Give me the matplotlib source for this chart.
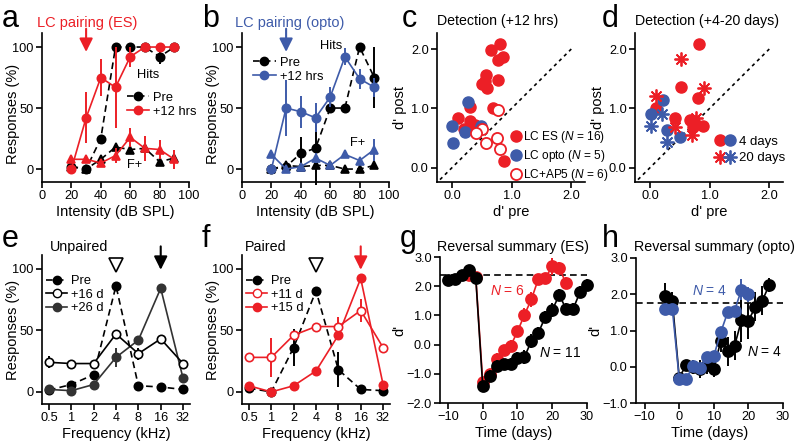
import matplotlib
matplotlib.use('Agg')
import matplotlib.pyplot as plt
from matplotlib.lines import Line2D
from matplotlib.legend_handler import HandlerTuple
from matplotlib.ticker import FuncFormatter

plt.rcParams['font.family'] = ['Liberation Sans', 'DejaVu Sans']
plt.rcParams['mathtext.fontset'] = 'custom'
plt.rcParams['mathtext.it'] = 'Liberation Sans:italic'
plt.rcParams['mathtext.rm'] = 'Liberation Sans'
plt.rcParams['axes.linewidth'] = 1.2
plt.rcParams['xtick.major.width'] = 1.2
plt.rcParams['ytick.major.width'] = 1.2
plt.rcParams['xtick.major.size'] = 4
plt.rcParams['ytick.major.size'] = 4
plt.rcParams['xtick.labelsize'] = 9.2
plt.rcParams['ytick.labelsize'] = 9.2
plt.rcParams['axes.labelsize'] = 10.5

RED = '#ec1f26'
BLUE = '#3e5ba9'
DGRAY = '#333333'

# ---------------- data ----------------
intensity = [20, 30, 40, 50, 60, 70, 80, 90]
pairing_intensity = 30

a_pre_hits = [2, 0, 25, 100, 100, 100, 92, 100]
a_pre_hits_err = [0, 0, 0, 0, 0, 0, 6, 0]
a_post_hits = [0, 42, 75, 67, 92, 100, 100, 100]
a_post_hits_err = [0, 21, 15, 33, 8, 0, 0, 0]
a_pre_fa = [2, 0, 8, 18, 16, 17, 6, 9]
a_post_fa = [8, 8, 5, 11, 26, 17, 16, 8]
a_post_fa_err = [0, 0, 0, 6, 8, 10, 8, 8]

b_pre_hits = [0, 2, 13, 17, 50, 50, 100, 75]
b_pre_hits_err = [0, 0, 13, 30, 0, 0, 0, 25]
b_post_hits = [0, 50, 47, 42, 59, 92, 74, 67]
b_post_hits_err = [0, 23, 13, 12, 8, 7, 8, 8]
b_pre_fa = [0, 3, 2, 3, 3, 0, 0, 3]
b_post_fa = [12, 0, 2, 9, 3, 12, 7, 16]
b_post_fa_err = [0, 0, 0, 4, 0, 0, 0, 9]

c_es_pre = [0.66, 0.81, 0.86, 0.77, 0.57, 0.51, 0.59, 0.56, 0.77, 0.69, 0.31, 0.11, 0.30, 0.38, 0.20, 0.87]
c_es_post = [1.99, 2.08, 1.87, 1.82, 1.56, 1.41, 1.34, 1.46, 1.48, 1.01, 1.02, 0.83, 0.78, 0.72, 0.65, 0.11]
c_opto_pre = [0.00, 0.02, 0.22, 0.27, 0.48]
c_opto_post = [0.71, 0.41, 0.61, 1.10, 0.71]
c_ap5_pre = [0.78, 0.51, 0.40, 0.57, 0.76, 0.80]
c_ap5_post = [0.97, 0.65, 0.59, 0.42, 0.50, 0.31]

d_es4_pre = [0.83, 0.52, 0.80, 0.11, 0.42, 0.67, 0.74, 0.72, 0.89]
d_es4_post = [2.09, 1.36, 1.17, 1.00, 0.83, 0.80, 0.78, 0.68, 0.70]
d_opto4_pre = [0.01, 0.22, 0.29, 0.51]
d_opto4_post = [0.91, 1.14, 0.64, 0.51]
d_es20_pre = [0.52, 0.10, 0.90, 0.42, 0.77, 0.71]
d_es20_post = [1.83, 1.21, 1.34, 0.69, 0.83, 0.55]
d_opto20_pre = [0.01, 0.21, 0.29]
d_opto20_post = [0.70, 0.90, 0.44]
diag = [-0.2, 2.0]

freqs = [0.5, 1, 2, 4, 8, 16, 32]
freq_labels = ['0.5', '1', '2', '4', '8', '16', '32']
orig_freq = 4
target_freq = 16

e_pre = [1.5, 6, 14, 86, 5, 4, 2]
e_pre_err = [0, 0, 0, 0, 0, 0, 0]
e_16d = [24, 23, 23, 47, 31, 43, 23]
e_16d_err = [5, 0, 0, 0, 5, 0, 0]
e_26d = [2, 1, 6, 28, 42, 84, 11]
e_26d_err = [0, 0, 0, 8, 0, 0, 0]

f_pre = [3, 0, 36, 82, 18, 2, 1]
f_pre_err = [0, 0, 15, 0, 14, 0, 0]
f_11d = [28, 28, 46, 53, 53, 66, 36]
f_11d_err = [0, 16, 0, 0, 8, 9, 0]
f_15d = [5, 0, 5, 17, 46, 92, 6]
f_15d_err = [0, 0, 0, 0, 0, 0, 0]

g_days_black = [-10, -8, -6, -4, -2, 0, 2, 4, 6, 8, 10, 12, 14, 16, 18, 20, 22, 24, 26, 28, 30]
g_black = [2.22, 2.25, 2.40, 2.57, 2.28, -1.43, -1.06, -0.74, -0.68, -0.65, -0.45, -0.42, 0.12, 0.40, 0.95, 1.18, 1.70, 1.22, 1.22, 1.80, 2.05]
g_black_err = [0.1, 0.1, 0.1, 0.1, 0.1, 0.15, 0.2, 0.2, 0.2, 0.2, 0.2, 0.25, 0.25, 0.2, 0.2, 0.25, 0.2, 0.2, 0.2, 0.2, 0.2]
g_days_red = [-4, -2, 0, 2, 4, 6, 8, 10, 12, 14, 16, 18, 20, 22, 24]
g_red = [2.38, 2.30, -1.28, -1.00, -0.50, -0.20, -0.05, 0.45, 1.02, 1.55, 2.25, 2.28, 2.68, 2.62, 2.10]
g_red_err = [0.1, 0.1, 0.15, 0.15, 0.2, 0.2, 0.2, 0.2, 0.25, 0.25, 0.15, 0.15, 0.3, 0.2, 0.2]
g_baseline = 2.4

h_days_black = [-4, -2, 0, 2, 4, 6, 8, 10, 12, 14, 16, 18, 20, 22, 24, 26]
h_black = [1.95, 1.82, -0.30, 0.05, 0.00, -0.05, 0.05, -0.07, 0.72, 0.43, 0.58, 1.28, 1.27, 1.65, 1.82, 2.25]
h_black_err = [0.35, 0.25, 0.1, 0.15, 0.2, 0.25, 0.25, 0.2, 0.3, 0.4, 0.4, 0.6, 0.5, 0.4, 0.4, 0.2]
h_days_blue = [-4, -2, 0, 2, 4, 6, 8, 10, 12, 14, 16, 18, 20]
h_blue = [1.60, 1.60, -0.33, -0.33, 0.02, -0.04, 0.28, 0.30, 0.95, 1.50, 1.55, 2.13, 2.00]
h_blue_err = [0.05, 0.05, 0.05, 0.05, 0.1, 0.1, 0.1, 0.1, 0.15, 0.1, 0.1, 0.3, 0.2]
h_baseline = 1.75

# ---------------- figure ----------------
W, H = 800, 443
fig = plt.figure(figsize=(8, 4.43), dpi=100)


def mkax(l, r, t, b):
    ax = fig.add_axes([l / W, 1 - b / H, (r - l) / W, (b - t) / H])
    ax.spines['top'].set_visible(False)
    ax.spines['right'].set_visible(False)
    ax.tick_params(direction='out', pad=2)
    return ax


def letter(x, y, s):
    fig.text(x / W, 1 - y / H, s, fontsize=22, va='baseline', ha='left')


def eb(ax, x, y, err, color, ls='-', marker='o', mfc=None, ms=6, z=2, lw=1.2):
    ax.errorbar(x, y, yerr=err, color=color, ls=ls, marker=marker, ms=ms,
                mfc=mfc if mfc else color, mec=color, mew=1.2, lw=lw,
                elinewidth=1.4, capsize=0, zorder=z, clip_on=False,
                dashes=(4, 2.5) if ls == '--' else (None, None))


def down_arrow(ax, x, y0, y1, color):
    ax.annotate('', xy=(x, y0), xytext=(x, y1), annotation_clip=False,
                arrowprops=dict(arrowstyle='-|>,head_length=0.8,head_width=0.4',
                                color=color, lw=1.5, shrinkA=0, shrinkB=0))


LEG = dict(frameon=False, fontsize=9.3, handletextpad=0.3, borderpad=0, borderaxespad=0)
YLAB_X = -0.15

# ---- panel a ----
ax = mkax(42, 189, 33, 182)
eb(ax, intensity, a_pre_hits, a_pre_hits_err, 'k', ls='--')
eb(ax, intensity, a_pre_fa, None, 'k', ls='--', marker='^')
eb(ax, intensity, a_post_fa, a_post_fa_err, RED, marker='^', z=3)
eb(ax, intensity, a_post_hits, a_post_hits_err, RED, z=3)
ax.set_xlim(0, 100)
ax.set_ylim(-10.6, 111.5)
ax.set_xticks([0, 20, 40, 60, 80, 100])
ax.set_yticks([0, 50, 100])
ax.set_xlabel('Intensity (dB SPL)', labelpad=2)
ax.set_ylabel('Responses (%)')
ax.yaxis.set_label_coords(YLAB_X, 0.46)
ax.text(64.5, 77, 'Hits', fontsize=9.3, va='center')
ax.text(58, 3, 'F+', fontsize=9.3, va='center')
h1 = Line2D([], [], color='k', ls='--', dashes=(4, 2.5), marker='o', ms=6, lw=1.2)
h2 = Line2D([], [], color=RED, ls='-', marker='o', ms=6, lw=1.2)
ax.legend([h1, h2], ['Pre', '+12 hrs'], loc='upper left', bbox_to_anchor=(0.575, 0.605),
          handlelength=1.75, labelspacing=0.15, **LEG)
down_arrow(ax, pairing_intensity, 96, 115, RED)
fig.text(87 / W, 1 - 23 / H, 'LC pairing (ES)', color=RED, fontsize=10.5, ha='center', va='center')
letter(2, 27, 'a')

# ---- panel b ----
ax = mkax(242, 389, 33, 182)
eb(ax, intensity, b_pre_hits, b_pre_hits_err, 'k', ls='--')
eb(ax, intensity, b_pre_fa, None, 'k', ls='--', marker='^')
eb(ax, intensity, b_post_fa, b_post_fa_err, BLUE, marker='^', z=3)
eb(ax, intensity, b_post_hits, b_post_hits_err, BLUE, z=3)
ax.set_xlim(0, 100)
ax.set_ylim(-10.6, 111.5)
ax.set_xticks([0, 20, 40, 60, 80, 100])
ax.set_yticks([0, 50, 100])
ax.set_xlabel('Intensity (dB SPL)', labelpad=2)
ax.set_ylabel('Responses (%)')
ax.yaxis.set_label_coords(YLAB_X, 0.46)
ax.text(53, 101, 'Hits', fontsize=9.3, va='center')
ax.text(73.5, 21, 'F+', fontsize=9.3, va='center')
h2b = Line2D([], [], color=BLUE, ls='-', marker='o', ms=6, lw=1.2)
ax.legend([h1, h2b], ['Pre', '+12 hrs'], loc='upper left', bbox_to_anchor=(0.075, 0.84),
          handlelength=1.75, labelspacing=0.15, **LEG)
down_arrow(ax, pairing_intensity, 96, 115, BLUE)
fig.text(290 / W, 1 - 23 / H, 'LC pairing (opto)', color=BLUE, fontsize=10.5, ha='center', va='center')
letter(202, 27, 'b')


def scatter_style(ax):
    ax.set_xlim(-0.25, 2.23)
    ax.set_ylim(-0.24, 2.27)
    ax.set_xticks([0, 1, 2])
    ax.set_yticks([0, 1, 2])
    fmt = FuncFormatter(lambda v, p: f'{v:.1f}')
    ax.xaxis.set_major_formatter(fmt)
    ax.yaxis.set_major_formatter(fmt)
    ax.plot(diag, diag, color='k', lw=1.2, ls=(0, (2, 2.2)), zorder=1)
    ax.set_xlabel("d' pre", labelpad=2)
    ax.set_ylabel("d' post", labelpad=3)


MS = 8
# ---- panel c ----
ax = mkax(437, 585, 33, 182)
scatter_style(ax)
p1, = ax.plot(c_es_pre, c_es_post, 'o', color=RED, ms=MS, mec=RED, ls='none')
p2, = ax.plot(c_opto_pre, c_opto_post, 'o', color=BLUE, ms=MS, mec=BLUE, ls='none')
p3, = ax.plot(c_ap5_pre, c_ap5_post, 'o', mfc='white', mec=RED, mew=1.3, ms=MS, ls='none')
ax.legend([p1, p2, p3], [r'LC ES ($\mathit{N}$ = 16)', r'LC opto ($\mathit{N}$ = 5)',
                         r'LC+AP5 ($\mathit{N}$ = 6)'],
          loc='upper left', bbox_to_anchor=(0.505, 0.355), handlelength=0.75,
          labelspacing=0.25, **{**LEG, 'fontsize': 8.6, 'handletextpad': 0.2})
ax.set_title('Detection (+12 hrs)', fontsize=10.2, pad=6, loc='left')
letter(402, 27, 'c')

# ---- panel d ----
ax = mkax(635, 783, 33, 182)
scatter_style(ax)
STAR = (8, 2, 0)
q1, = ax.plot(d_es4_pre, d_es4_post, 'o', color=RED, mec=RED, ms=MS, ls='none')
q2, = ax.plot(d_opto4_pre, d_opto4_post, 'o', color=BLUE, mec=BLUE, ms=MS, ls='none')
q3, = ax.plot(d_es20_pre, d_es20_post, marker=STAR, color=RED, mec=RED, mew=1.3, ms=10, ls='none')
q4, = ax.plot(d_opto20_pre, d_opto20_post, marker=STAR, color=BLUE, mec=BLUE, mew=1.3, ms=10, ls='none')
ax.legend([(q1, q2), (q3, q4)], ['4 days', '20 days'],
          handler_map={tuple: HandlerTuple(ndivide=None, pad=0.05)},
          loc='upper left', bbox_to_anchor=(0.54, 0.31), handlelength=1.5,
          labelspacing=0.3, **{**LEG, 'fontsize': 9.5, 'handletextpad': 0.35})
ax.set_title('Detection (+4-20 days)', fontsize=10.2, pad=6, loc='left')
letter(602, 27, 'd')


def freq_style(ax):
    ax.set_xscale('log', base=2)
    ax.set_xlim(0.5 / 2 ** 0.31, 32 * 2 ** 0.31)
    ax.set_xticks(freqs)
    ax.set_xticklabels(freq_labels)
    ax.minorticks_off()
    ax.set_ylim(-9.8, 111)
    ax.set_yticks([0, 50, 100])
    ax.set_xlabel('Frequency (kHz)', labelpad=2)
    ax.set_ylabel('Responses (%)')
    ax.yaxis.set_label_coords(YLAB_X, 0.5)


# ---- panel e ----
ax = mkax(42, 190, 255, 404)
freq_style(ax)
eb(ax, freqs, e_pre, e_pre_err, 'k', ls='--')
eb(ax, freqs, e_26d, e_26d_err, DGRAY)
eb(ax, freqs, e_16d, e_16d_err, 'k', mfc='white')
ax.plot([orig_freq], [103], marker='v', ms=10, mfc='white', mec='k', mew=1.2, clip_on=False)
down_arrow(ax, target_freq, 99, 118, 'k')
he1 = Line2D([], [], color='k', ls='--', dashes=(4, 2.5), marker='o', ms=6, lw=1.2)
he2 = Line2D([], [], color='k', ls='-', marker='o', ms=6, mfc='white', lw=1.2)
he3 = Line2D([], [], color=DGRAY, ls='-', marker='o', ms=6, lw=1.2)
ax.legend([he1, he2, he3], ['Pre', '+16 d', '+26 d'], loc='upper left', bbox_to_anchor=(0.03, 0.865),
          handlelength=1.6, labelspacing=0.12, **LEG)
fig.text(50 / W, 1 - 251 / H, 'Unpaired', fontsize=10.3, va='baseline')
letter(2, 247, 'e')

# ---- panel f ----
ax = mkax(242, 390, 255, 404)
freq_style(ax)
eb(ax, freqs, f_pre, f_pre_err, 'k', ls='--')
eb(ax, freqs, f_15d, f_15d_err, RED)
eb(ax, freqs, f_11d, f_11d_err, RED, mfc='white')
ax.plot([orig_freq], [103], marker='v', ms=10, mfc='white', mec='k', mew=1.2, clip_on=False)
down_arrow(ax, target_freq, 99, 118, RED)
hf2 = Line2D([], [], color=RED, ls='-', marker='o', ms=6, mfc='white', lw=1.2)
hf3 = Line2D([], [], color=RED, ls='-', marker='o', ms=6, lw=1.2)
ax.legend([he1, hf2, hf3], ['Pre', '+11 d', '+15 d'], loc='upper left', bbox_to_anchor=(0.03, 0.865),
          handlelength=1.6, labelspacing=0.12, **LEG)
fig.text(245 / W, 1 - 251 / H, 'Paired', fontsize=10.3, va='baseline')
letter(202, 247, 'f')

fmt1 = FuncFormatter(lambda v, p: f'{v:.1f}'.replace('-', '\u2212'))
fmt0 = FuncFormatter(lambda v, p: f'{v:.0f}'.replace('-', '\u2212'))

# ---- panel g ----
ax = mkax(440, 587, 257, 403)
ax.axhline(g_baseline, color='k', ls='--', lw=1.2, dashes=(4, 2.5), zorder=1)
eb(ax, g_days_red, g_red, g_red_err, RED, ms=8, z=2)
eb(ax, g_days_black, g_black, g_black_err, 'k', ms=8, z=3)
ax.set_xlim(-12.3, 30)
ax.set_ylim(-2, 3)
ax.set_xticks([-10, 0, 10, 20, 30])
ax.set_yticks([-2, -1, 0, 1, 2, 3])
ax.xaxis.set_major_formatter(fmt0)
ax.yaxis.set_major_formatter(fmt1)
ax.set_xlabel('Time (days)', labelpad=2)
ax.set_ylabel("d'", labelpad=0)
ax.text(12.2, 1.83, r'$\mathit{N}$ = 6', color=RED, fontsize=10, ha='right', va='center')
ax.text(16.3, -0.29, r'$\mathit{N}$ = 11', color='k', fontsize=10, ha='left', va='center')
fig.text(513 / W, 1 - 251 / H, 'Reversal summary (ES)', fontsize=10.3, ha='center', va='baseline')
letter(400, 247, 'g')

# ---- panel h ----
ax = mkax(636, 783, 258, 403)
ax.axhline(h_baseline, color='k', ls='--', lw=1.2, dashes=(4, 2.5), zorder=1)
eb(ax, h_days_black, h_black, h_black_err, 'k', ms=8, z=2)
eb(ax, h_days_blue, h_blue, h_blue_err, BLUE, ms=8, z=3)
ax.set_xlim(-12.5, 30)
ax.set_ylim(-1, 3)
ax.set_xticks([-10, 0, 10, 20, 30])
ax.set_yticks([-1, 0, 1, 2, 3])
ax.xaxis.set_major_formatter(fmt0)
ax.yaxis.set_major_formatter(fmt1)
ax.set_xlabel('Time (days)', labelpad=2)
ax.set_ylabel("d'", labelpad=0)
ax.text(14.0, 2.1, r'$\mathit{N}$ = 4', color=BLUE, fontsize=10, ha='right', va='center')
ax.text(19.7, 0.4, r'$\mathit{N}$ = 4', color='k', fontsize=10, ha='left', va='center')
fig.text(715 / W, 1 - 251 / H, 'Reversal summary (opto)', fontsize=10.3, ha='center', va='baseline')
letter(602, 247, 'h')

fig.savefig('out.png', dpi=100)
